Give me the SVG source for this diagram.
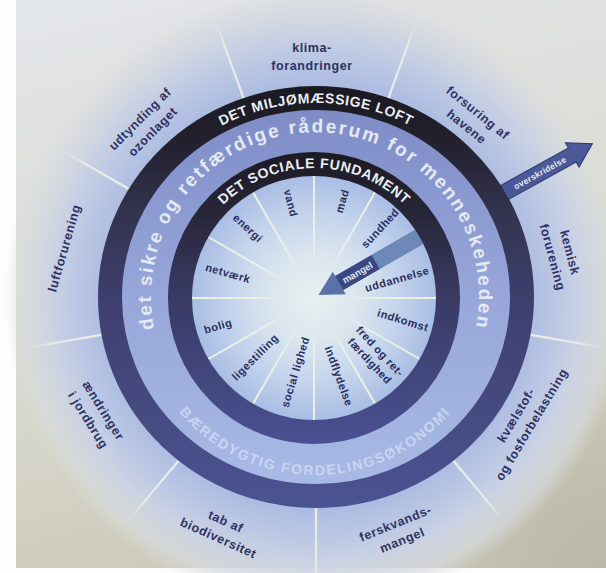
<svg xmlns="http://www.w3.org/2000/svg" width="606" height="573" viewBox="0 0 606 573">
<style>
.ol{font-family:"Liberation Sans",Arial,sans-serif;font-size:12.5px;font-weight:bold;fill:#2e3262;letter-spacing:0.6px;text-anchor:middle}
.il{font-family:"Liberation Sans",Arial,sans-serif;font-size:11px;font-weight:bold;fill:#2b2f5e;letter-spacing:0.5px;text-anchor:middle}
.rt{font-family:"Liberation Sans",Arial,sans-serif;font-weight:bold;fill:#eceef6}
.oline{stroke:url(#olg);stroke-width:2.2;fill:none}
.iline{stroke:url(#ilg);stroke-width:2;fill:none}
</style>
<defs>
<linearGradient id="bg" x1="0" y1="0" x2="0.25" y2="1">
<stop offset="0" stop-color="#e3e6ea"/>
<stop offset="0.55" stop-color="#dcdcd4"/>
<stop offset="1" stop-color="#cdcbbb"/>
</linearGradient>
<radialGradient id="corner" gradientUnits="userSpaceOnUse" cx="606" cy="573" r="260">
<stop offset="0" stop-color="#b6b2a2" stop-opacity="0.8"/>
<stop offset="1" stop-color="#b6b2a2" stop-opacity="0"/>
</radialGradient>
<radialGradient id="eco" gradientUnits="userSpaceOnUse" cx="316" cy="297" r="312">
<stop offset="0.62" stop-color="#a3b4df"/>
<stop offset="0.74" stop-color="#b6c3e3"/>
<stop offset="0.85" stop-color="#cad2e3"/>
<stop offset="0.94" stop-color="#d7dbdf" stop-opacity="0.7"/>
<stop offset="1" stop-color="#dcdedc" stop-opacity="0"/>
</radialGradient>
<linearGradient id="band" gradientUnits="userSpaceOnUse" x1="0" y1="87" x2="0" y2="508">
<stop offset="0" stop-color="#7b89c4"/>
<stop offset="0.5" stop-color="#97a7da"/>
<stop offset="1" stop-color="#aabce6"/>
</linearGradient>
<linearGradient id="oring" gradientUnits="userSpaceOnUse" x1="0" y1="87" x2="0" y2="508">
<stop offset="0" stop-color="#1b1920"/>
<stop offset="0.12" stop-color="#22202c"/>
<stop offset="0.3" stop-color="#33334f"/>
<stop offset="0.5" stop-color="#3d3f6d"/>
<stop offset="1" stop-color="#4c5392"/>
</linearGradient>
<linearGradient id="iring" gradientUnits="userSpaceOnUse" x1="0" y1="152" x2="0" y2="445">
<stop offset="0" stop-color="#1c1a22"/>
<stop offset="0.2" stop-color="#262536"/>
<stop offset="0.45" stop-color="#37385f"/>
<stop offset="1" stop-color="#4a5192"/>
</linearGradient>
<radialGradient id="idisc" gradientUnits="userSpaceOnUse" cx="314" cy="298" r="123">
<stop offset="0" stop-color="#e8f0ee"/>
<stop offset="0.35" stop-color="#dbe6ee"/>
<stop offset="0.7" stop-color="#c3d3ec"/>
<stop offset="1" stop-color="#a8bde4"/>
</radialGradient>
<linearGradient id="olg" gradientUnits="userSpaceOnUse" x1="210" y1="0" x2="292" y2="0">
<stop offset="0" stop-color="#f2f3e6" stop-opacity="0.95"/>
<stop offset="0.7" stop-color="#f2f3e6" stop-opacity="0.7"/>
<stop offset="1" stop-color="#f2f3e6" stop-opacity="0"/>
</linearGradient>
<linearGradient id="ilg" gradientUnits="userSpaceOnUse" x1="30" y1="0" x2="123" y2="0">
<stop offset="0" stop-color="#f1f4e2" stop-opacity="0"/>
<stop offset="0.3" stop-color="#f1f4e2" stop-opacity="0.8"/>
<stop offset="1" stop-color="#f1f4e2" stop-opacity="0.95"/>
</linearGradient>
<path id="pLoft" d="M115,297 A201,194 0 0 1 517,297"/>
<path id="pSocial" d="M184,298 A130,130 0 0 1 444,298"/>
<path id="pBig" d="M161,352.7 A164,164 0 1 1 469,352.7"/>
<path id="pBottom" d="M160.8,386 A178,178 0 0 0 469.2,386"/>
</defs>

<g id="background">
<rect x="0" y="0" width="606" height="573" fill="#fdfdfd"/>
<rect x="16" y="0" width="590" height="568" fill="url(#bg)"/>
<rect x="16" y="0" width="590" height="568" fill="url(#corner)"/>
<circle cx="316" cy="297" r="312" fill="url(#eco)"/>
</g>

<g id="connectors">
<g id="outer-dividers" transform="translate(316,297)">
<line class="oline" x1="205" y1="0" x2="292" y2="0" transform="rotate(-110)"/>
<line class="oline" x1="205" y1="0" x2="292" y2="0" transform="rotate(-70)"/>
<line class="oline" x1="205" y1="0" x2="292" y2="0" transform="rotate(10)"/>
<line class="oline" x1="205" y1="0" x2="292" y2="0" transform="rotate(50)"/>
<line class="oline" x1="205" y1="0" x2="292" y2="0" transform="rotate(90)"/>
<line class="oline" x1="205" y1="0" x2="292" y2="0" transform="rotate(130)"/>
<line class="oline" x1="205" y1="0" x2="292" y2="0" transform="rotate(170)"/>
<line class="oline" x1="205" y1="0" x2="292" y2="0" transform="rotate(210)"/>
</g>
<g id="arrow-overskridelse" transform="translate(316,297) rotate(-29)">
<path d="M205,-8 H293 V-14 L316,0 L293,14 V8 H205 Z" fill="#4b5997" stroke="#2f3870" stroke-width="1"/>
<text x="256" y="3" style="font-family:'Liberation Sans',Arial,sans-serif;font-size:8.5px;font-weight:bold;fill:#e6ebf7;letter-spacing:0.3px;text-anchor:middle">overskridelse</text>
</g>
</g>

<g id="safe-space">
<ellipse cx="316" cy="297" rx="206" ry="199" fill="url(#band)"/>
<text class="rt" style="font-size:19px;letter-spacing:2.2px;fill:#e4e9f6"><textPath href="#pBig" startOffset="50%" text-anchor="middle">det sikre og retfærdige råderum for menneskeheden</textPath></text>
<text class="rt" style="font-size:14px;letter-spacing:1.7px;fill:#c9d5f0"><textPath href="#pBottom" startOffset="50%" text-anchor="middle">BÆREDYGTIG FORDELINGSØKONOMI</textPath></text>
</g>

<g id="ecological-ceiling">
<ellipse cx="316" cy="297" rx="206" ry="199" fill="none" stroke="url(#oring)" stroke-width="24"/>
<text class="rt" style="font-size:14px;letter-spacing:0.6px"><textPath href="#pLoft" startOffset="50%" text-anchor="middle">DET MILJØMÆSSIGE LOFT</textPath></text>
</g>

<g id="social-core">
<circle cx="314" cy="298" r="123" fill="url(#idisc)"/>
<g id="inner-dividers" transform="translate(314,298)">
<line class="iline" x1="30" y1="0" x2="123" y2="0" transform="rotate(0)"/>
<line class="iline" x1="30" y1="0" x2="123" y2="0" transform="rotate(30)"/>
<line class="iline" x1="30" y1="0" x2="123" y2="0" transform="rotate(60)"/>
<line class="iline" x1="30" y1="0" x2="123" y2="0" transform="rotate(90)"/>
<line class="iline" x1="30" y1="0" x2="123" y2="0" transform="rotate(120)"/>
<line class="iline" x1="30" y1="0" x2="123" y2="0" transform="rotate(150)"/>
<line class="iline" x1="30" y1="0" x2="123" y2="0" transform="rotate(180)"/>
<line class="iline" x1="30" y1="0" x2="123" y2="0" transform="rotate(210)"/>
<line class="iline" x1="30" y1="0" x2="123" y2="0" transform="rotate(240)"/>
<line class="iline" x1="30" y1="0" x2="123" y2="0" transform="rotate(270)"/>
<line class="iline" x1="30" y1="0" x2="123" y2="0" transform="rotate(300)"/>
</g>
<g id="arrow-mangel" transform="translate(315,297) rotate(-30)">
<path d="M4,0 L28,-13 V-8 H124 V8 H28 V13 Z" fill="#5a72a8"/>
<rect x="70" y="-8" width="54" height="16" fill="#6e88b8"/>
<rect x="28" y="-8" width="42" height="16" fill="#3a4782"/>
<text x="49" y="3.5" style="font-family:'Liberation Sans',Arial,sans-serif;font-size:9.5px;font-weight:bold;fill:#dfe6f5;text-anchor:middle">mangel</text>
</g>
</g>

<g id="social-foundation">
<circle cx="314" cy="298" r="134" fill="none" stroke="url(#iring)" stroke-width="24"/>
<text class="rt" style="font-size:14px;letter-spacing:0.7px"><textPath href="#pSocial" startOffset="50%" text-anchor="middle">DET SOCIALE FUNDAMENT</textPath></text>
</g>

<g id="n-klima"><text class="ol" transform="translate(312,57)"><tspan x="0" y="-5">klima-</tspan><tspan x="0" y="13">forandringer</tspan></text></g>
<g id="n-ozon"><text class="ol" transform="translate(146.5,125.5) rotate(-45)"><tspan x="0" y="-5">udtynding af</tspan><tspan x="0" y="13">ozonlaget</tspan></text></g>
<g id="n-forsuring"><text class="ol" transform="translate(472,120) rotate(39)"><tspan x="0" y="-5">forsuring af</tspan><tspan x="0" y="13">havene</tspan></text></g>
<g id="n-kemisk"><text class="ol" transform="translate(561,255) rotate(75)"><tspan x="0" y="-5">kemisk</tspan><tspan x="0" y="13">forurening</tspan></text></g>
<g id="n-kvaelstof"><text class="ol" transform="translate(524,420) rotate(-59)"><tspan x="0" y="-5">kvælstof-</tspan><tspan x="0" y="13">og fosforbelastning</tspan></text></g>
<g id="n-ferskvand"><text class="ol" transform="translate(399,532) rotate(-22)"><tspan x="0" y="-5">ferskvands-</tspan><tspan x="0" y="13">mangel</tspan></text></g>
<g id="n-biodiversitet"><text class="ol" transform="translate(222,530) rotate(24)"><tspan x="0" y="-5">tab af</tspan><tspan x="0" y="13">biodiversitet</tspan></text></g>
<g id="n-jordbrug"><text class="ol" transform="translate(95.5,415.5) rotate(58)"><tspan x="0" y="-5">ændringer</tspan><tspan x="0" y="13">i jordbrug</tspan></text></g>
<g id="n-luft"><text class="ol" transform="translate(64,248) rotate(-74)" y="4.5">luftforurening</text></g>

<g id="n-energi"><text class="il" transform="translate(248,228) rotate(43)" y="4">energi</text></g>
<g id="n-vand"><text class="il" transform="translate(291,203) rotate(76)" y="4">vand</text></g>
<g id="n-mad"><text class="il" transform="translate(342,201) rotate(-74)" y="4">mad</text></g>
<g id="n-sundhed"><text class="il" transform="translate(380,228) rotate(-47)" y="4">sundhed</text></g>
<g id="n-uddannelse"><text class="il" transform="translate(397,279) rotate(-16)" y="4">uddannelse</text></g>
<g id="n-indkomst"><text class="il" transform="translate(403,320) rotate(17)" y="4">indkomst</text></g>
<g id="n-fred"><text class="il" transform="translate(375,356) rotate(47)"><tspan x="0" y="-3">fred og ret-</tspan><tspan x="0" y="11">færdighed</tspan></text></g>
<g id="n-indflydelse"><text class="il" transform="translate(339,376) rotate(70)" y="4">indflydelse</text></g>
<g id="n-social-lighed"><text class="il" transform="translate(295,372) rotate(-73)" y="4">social lighed</text></g>
<g id="n-ligestilling"><text class="il" transform="translate(255,357) rotate(-45)" y="4">ligestilling</text></g>
<g id="n-bolig"><text class="il" transform="translate(218,326) rotate(-16)" y="4">bolig</text></g>
<g id="n-netvaerk"><text class="il" transform="translate(228,273) rotate(16)" y="4">netværk</text></g>
</svg>
